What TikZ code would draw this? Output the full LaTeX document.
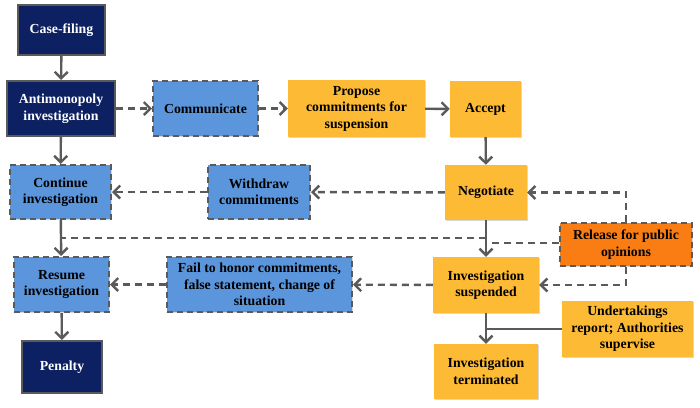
\documentclass[tikz,border=0pt]{standalone}
\usepackage{fontspec}
\setmainfont{Liberation Serif}
\usetikzlibrary{arrows.meta,shadows}
\definecolor{navy}{HTML}{0C2062}
\definecolor{lblue}{HTML}{5B96DC}
\definecolor{ylw}{HTML}{FDBA35}
\definecolor{orng}{HTML}{F97D12}
\definecolor{lgray}{HTML}{5A5A5A}
\begin{document}
\begin{tikzpicture}[x=1pt,y=-1pt,
  box/.style={rectangle,inner sep=2pt,align=center,font=\fontsize{13.8}{16.5}\selectfont\bfseries,
    drop shadow={opacity=0.3,shadow xshift=1.2pt,shadow yshift=-1.2pt}},
  dark/.style={box,fill=navy,draw=lgray,line width=2pt,text=white},
  blu/.style={box,fill=lblue,draw=lgray,line width=2pt,dash pattern=on 6pt off 4pt},
  yel/.style={box,fill=ylw},
  org/.style={box,fill=orng,draw=lgray,line width=2pt,dash pattern=on 6pt off 4pt},
  conn/.style={draw=lgray,line width=2.4pt},
  arr/.style={conn,-{Straight Barb[length=6.5pt,width=13pt,line width=2.4pt]}},
  dsh/.style={dash pattern=on 7pt off 5pt}]
\useasboundingbox (0,0) rectangle (700,407);
\fill[white] (0,0) rectangle (700,407);

\node[dark,minimum width=87pt,minimum height=50pt] (case) at (61.5,30) {Case-filing};
\node[dark,minimum width=108pt,minimum height=55pt] (anti) at (61,108.5) {Antimonopoly\\investigation};
\node[blu,minimum width=105pt,minimum height=55pt] (comm) at (205.5,108.5) {Communicate};
\node[yel,minimum width=137pt,minimum height=57pt] (prop) at (356.5,108.5) {Propose\\commitments for\\suspension};
\node[yel,minimum width=71pt,minimum height=56pt] (acc) at (485.5,109) {Accept};
\node[yel,minimum width=82pt,minimum height=55pt] (neg) at (486,192.5) {Negotiate};
\node[blu,minimum width=102pt,minimum height=54pt] (wd) at (259,192) {Withdraw\\commitments};
\node[blu,minimum width=101pt,minimum height=54pt] (cont) at (60.5,192) {Continue\\investigation};
\node[org,minimum width=132pt,minimum height=43pt] (rel) at (626,244.5) {Release for public\\opinions};
\node[yel,minimum width=106pt,minimum height=56pt] (susp) at (486,285) {Investigation\\suspended};
\node[blu,minimum width=185pt,minimum height=55pt] (fail) at (259.5,284.5) {Fail to honor commitments,\\false statement, change of\\situation};
\node[blu,minimum width=95pt,minimum height=55pt] (res) at (61.5,284.5) {Resume\\investigation};
\node[dark,minimum width=80pt,minimum height=52pt] (pen) at (62,367) {Penalty};
\node[yel,minimum width=104pt,minimum height=55pt] (term) at (486,371.5) {Investigation\\terminated};
\node[yel,minimum width=131pt,minimum height=56pt] (und) at (627.5,329) {Undertakings\\report; Authorities\\supervise};

\coordinate (j1) at (486,238);
\coordinate (j2) at (486,243);

\draw[arr] (case) -- (anti);
\draw[arr] (anti) -- (cont);
\draw[arr] (cont) -- (res);
\draw[arr] (res) -- (pen);
\draw[arr,dsh] (anti) -- (comm);
\draw[arr,dsh] (comm) -- (prop);
\draw[arr] (prop) -- (acc);
\draw[arr] (acc) -- (neg);
\draw[arr,dsh] (neg) -- (wd);
\draw[arr,dsh] (wd) -- (cont);
\draw[arr] (neg) -- (susp);
\draw[arr,dsh] (susp) -- (fail);
\draw[arr,dsh] (fail) -- (res);
\draw[arr] (susp) -- (term);
\draw[conn,dsh] (j1) -- (j1 -| cont.south);
\draw[conn,dsh] (rel.west |- j2) -- (j2);
\draw[arr,dsh] (rel.north) -- (rel.north |- neg.east) -- (neg.east);
\draw[arr,dsh] (rel.south) -- (rel.south |- susp.east) -- (susp.east);
\draw[draw=lgray,line width=1.2pt] (und.west) -- (und.west -| susp.south);
\end{tikzpicture}
\end{document}
